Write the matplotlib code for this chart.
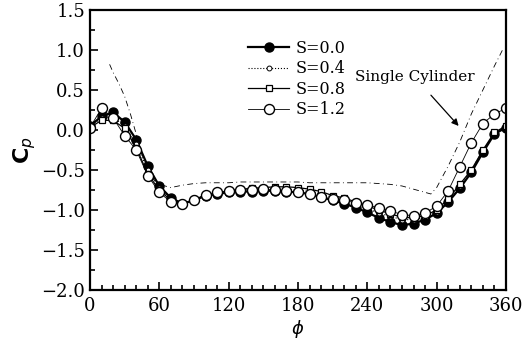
import numpy as np
import matplotlib
matplotlib.use('Agg')
from matplotlib import pyplot as plt
from matplotlib.ticker import MultipleLocator

phi = list(range(0, 361, 10))

cp_s00 = [0.05, 0.17, 0.22, 0.1, -0.12, -0.45, -0.7, -0.85, -0.92, -0.88,
          -0.82, -0.8, -0.78, -0.77, -0.77, -0.76, -0.76, -0.77, -0.78, -0.8,
          -0.84, -0.88, -0.92, -0.97, -1.03, -1.1, -1.15, -1.19, -1.17, -1.12,
          -1.04, -0.9, -0.73, -0.53, -0.28, -0.05, 0.03]
cp_s04 = [0.04, 0.15, 0.16, 0.05, -0.18, -0.5, -0.72, -0.87, -0.91, -0.87,
          -0.82, -0.79, -0.77, -0.75, -0.74, -0.73, -0.73, -0.74, -0.75, -0.77,
          -0.8, -0.84, -0.88, -0.93, -0.98, -1.04, -1.08, -1.12, -1.12, -1.09,
          -1.02, -0.88, -0.7, -0.5, -0.26, -0.04, 0.04]
cp_s08 = [0.03, 0.12, 0.12, 0.02, -0.22, -0.55, -0.75, -0.88, -0.92, -0.88,
          -0.82, -0.79, -0.76, -0.74, -0.73, -0.72, -0.71, -0.71, -0.72, -0.74,
          -0.77, -0.82, -0.85, -0.9, -0.95, -1.0, -1.05, -1.09, -1.1, -1.07,
          -1.0, -0.86, -0.68, -0.5, -0.25, -0.03, 0.05]
cp_s12 = [0.03, 0.27, 0.15, -0.07, -0.25, -0.57, -0.78, -0.9, -0.92, -0.87,
          -0.81, -0.78, -0.76, -0.75, -0.75, -0.74, -0.75, -0.76, -0.78, -0.8,
          -0.84, -0.86, -0.88, -0.91, -0.94, -0.97, -1.01, -1.06, -1.07, -1.04,
          -0.95, -0.76, -0.46, -0.16, 0.08, 0.2, 0.27]

phi_single = [17, 20, 25, 30, 35, 40, 45, 50, 55, 60, 70, 80, 90, 100, 110, 120,
              130, 140, 150, 160, 170, 180, 190, 200, 210, 220, 230, 240, 250,
              260, 270, 280, 290, 295, 300, 310, 320, 330, 340, 350, 357]
cp_single = [0.82, 0.72, 0.58, 0.42, 0.2, -0.05, -0.3, -0.5, -0.62, -0.68, -0.72,
             -0.69, -0.67, -0.66, -0.66, -0.66, -0.65, -0.65, -0.65, -0.65,
             -0.65, -0.65, -0.66, -0.66, -0.66, -0.66, -0.66, -0.66, -0.67,
             -0.68, -0.7, -0.74, -0.78, -0.8, -0.72, -0.45, -0.15, 0.2, 0.5,
             0.8, 1.0]

ytick_vals = [-2.0, -1.5, -1.0, -0.5, 0.0, 0.5, 1.0, 1.5]
ytick_text = ['\u22122.0', '\u22121.5', '\u22121.0', '\u22120.5',
              '0.0', '0.5', '1.0', '1.5']

plt.rcParams['font.family'] = 'DejaVu Serif'

fig = plt.figure(figsize=(5.23, 3.42), dpi=100, facecolor='w')
ax = fig.add_axes([0.172, 0.152, 0.7955, 0.819])

ax.plot(phi_single, cp_single, color='k', lw=0.6, ls=(0, (7, 4, 1, 4)))
ax.plot(phi, cp_s00, 'k-', lw=1.6, marker='o', ms=6.5, mfc='k', mec='k',
        label='S=0.0')
ax.plot(phi, cp_s04, color='k', ls=':', lw=0.8, marker='o', ms=3.5, mfc='w',
        mec='k', mew=0.7, label='S=0.4')
ax.plot(phi, cp_s08, 'k-', lw=0.9, marker='s', ms=4.5, mfc='w', mec='k',
        mew=0.9, label='S=0.8')
ax.plot(phi, cp_s12, 'k-', lw=0.6, marker='o', ms=7.2, mfc='w', mec='k',
        mew=1.0, label='S=1.2')

ax.set_xlim(0, 360)
ax.set_ylim(-2.0, 1.5)
ax.xaxis.set_major_locator(MultipleLocator(60))
ax.xaxis.set_minor_locator(MultipleLocator(10))
ax.set_yticks(ytick_vals)
ax.set_yticklabels(ytick_text)
ax.yaxis.set_minor_locator(MultipleLocator(0.25))
ax.tick_params(which='both', direction='in', top=False, right=False,
               labelsize=13, width=1.2)
ax.tick_params(which='major', length=6)
ax.tick_params(which='minor', length=3.5)
ax.tick_params(axis='x', pad=5)
for sp in ax.spines.values():
    sp.set_linewidth(1.6)

ax.set_xlabel(r'$\phi$', fontsize=13, labelpad=2)
ax.set_ylabel(r'$\mathbf{C}_p$', fontsize=16, labelpad=2)

ax.legend(loc='upper left', bbox_to_anchor=(0.345, 0.945), frameon=False,
          numpoints=1, handlelength=2.6, handletextpad=0.4, labelspacing=0.22,
          fontsize=11.5)

ax.annotate('Single Cylinder', xy=(319, 0.05), xytext=(281, 0.66),
            ha='center', va='center', fontsize=11,
            arrowprops=dict(arrowstyle='-|>', color='k', lw=0.9,
                            shrinkA=8, shrinkB=0, mutation_scale=10))

fig.savefig('out.png', dpi=100)
plt.close()
